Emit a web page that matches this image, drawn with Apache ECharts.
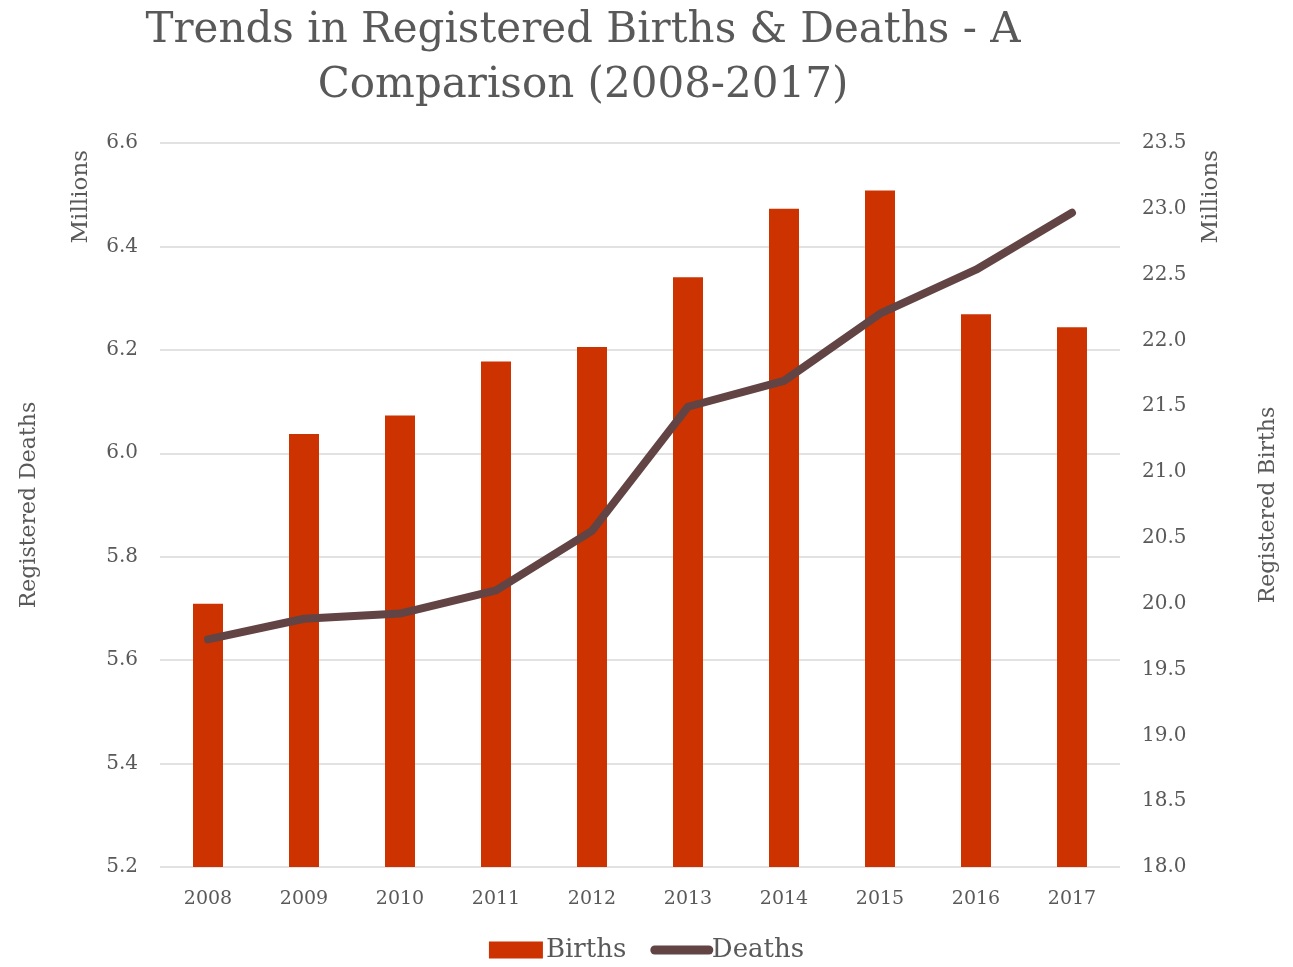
<!DOCTYPE html>
<html>
<head>
<meta charset="utf-8">
<script src="https://cdn.jsdelivr.net/npm/echarts@6/dist/echarts.min.js"></script>
<style>html,body{margin:0;padding:0;background:#fff}#c{width:1293px;height:967px}</style>
</head>
<body>
<div id="c"></div>
<script>
var years = ['2008','2009','2010','2011','2012','2013','2014','2015','2016','2017'];
var births = [20.0, 21.29, 21.43, 21.84, 21.95, 22.48, 23.0, 23.14, 22.2, 22.1];
var deaths = [5.64, 5.68, 5.69, 5.735, 5.85, 6.09, 6.14, 6.27, 6.355, 6.465];
var titleText = 'Trends in Registered Births & Deaths - A\nComparison (2008-2017)';

var FONT = '"DejaVu Serif", serif';
var GREY = '#595959';
var chart = echarts.init(document.getElementById('c'));
chart.setOption({
  animation: false,
  textStyle: {fontFamily: FONT},
  legend: {
    top: 932, left: 'center', itemGap: 24, itemWidth: 54, itemHeight: 17,
    textStyle: {fontFamily: FONT, fontSize: 26, color: GREY, padding: [0,0,0,-2]},
    data: [
      {name: 'Births', icon: 'rect'},
      {name: 'Deaths', itemStyle: {opacity: 0}, lineStyle: {width: 9, cap: 'round', color: '#634444'}}
    ]
  },
  grid: {left: 160, right: 173, top: 143, bottom: 100},
  xAxis: {
    type: 'category', data: years,
    axisLine: {show: false}, axisTick: {show: false},
    axisLabel: {fontFamily: FONT, fontSize: 19, color: GREY, margin: 23}
  },
  yAxis: [
    {
      type: 'value', min: 5.2, max: 6.6, interval: 0.2, position: 'left',
      name: 'Registered Deaths', nameLocation: 'middle', nameGap: 120, nameRotate: 90,
      nameTextStyle: {fontFamily: FONT, fontSize: 22, color: GREY},
      axisLine: {show: false}, axisTick: {show: false},
      axisLabel: {fontFamily: FONT, fontSize: 20, color: GREY, margin: 22, formatter: function(v){return v.toFixed(1);}},
      splitLine: {lineStyle: {color: '#d9d9d9', width: 1.5}}
    },
    {
      type: 'value', min: 18.0, max: 23.5, interval: 0.5, position: 'right',
      name: 'Registered Births', nameLocation: 'middle', nameGap: 137, nameRotate: 90,
      nameTextStyle: {fontFamily: FONT, fontSize: 22, color: GREY},
      axisLine: {show: false}, axisTick: {show: false},
      axisLabel: {fontFamily: FONT, fontSize: 20, color: GREY, margin: 22, formatter: function(v){return v.toFixed(1);}},
      splitLine: {show: false}
    }
  ],
  graphic: [
    {type: 'text', x: 583, y: 4, style: {text: titleText, font: '42px ' + FONT, fill: GREY, textAlign: 'center', lineHeight: 55}},
    {type: 'text', left: 70, top: 150, rotation: Math.PI/2, style: {text: 'Millions', font: '23px ' + FONT, fill: GREY}},
    {type: 'text', left: 1200, top: 150, rotation: Math.PI/2, style: {text: 'Millions', font: '23px ' + FONT, fill: GREY}}
  ],
  series: [
    {
      name: 'Births', type: 'bar', yAxisIndex: 1, data: births,
      barWidth: 30, itemStyle: {color: '#CC3300'}
    },
    {
      name: 'Deaths', type: 'line', yAxisIndex: 0, data: deaths,
      showSymbol: false, symbol: 'none',
      lineStyle: {color: '#634444', width: 8, cap: 'round', join: 'round'},
      itemStyle: {color: '#634444'}
    }
  ]
});
</script>
</body>
</html>
